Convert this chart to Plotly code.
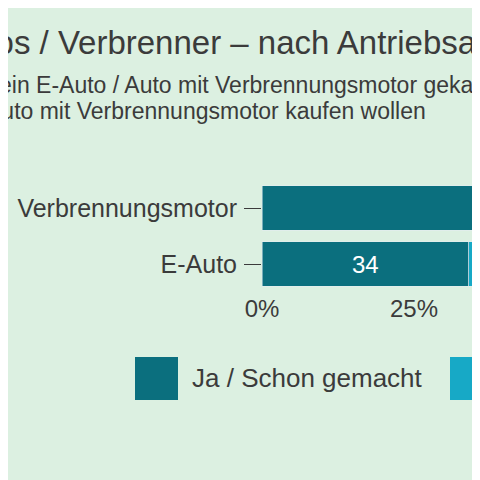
import plotly.graph_objects as go

categories = ["E-Auto", "Verbrennungsmotor"]
ja_values = [34, 52]
plan_values = [30, 25]
series_names = ["Ja / Schon gemacht", "Geplant"]
tick_vals = [0, 25, 50, 75, 100]
tick_text = ["0%", "25%", "50%", "75%", "100%"]

teal = "#0b6f7e"
cyan = "#17a9c6"
bg = "#dcf0e1"
ink = "#3b3b3b"

# page body has an 8px margin, so the figure is offset by 8px
OFF = 8
W, H = 472, 472
L, T = 262 - OFF, 180 - OFF
B = H - (292 - OFF)
pw, ph = W - L, H - T - B


def px(x):
    return (x - OFF - L) / pw


def py(y):
    return (H - B - (y - OFF)) / ph


fig = go.Figure()
fig.add_trace(go.Bar(y=categories, x=ja_values, orientation="h", name=series_names[0],
                     marker_color=teal, text=[ja_values[0], ""], textposition="inside",
                     insidetextanchor="middle", textfont=dict(color="white", size=24)))
fig.add_trace(go.Bar(y=categories, x=plan_values, orientation="h", name=series_names[1],
                     marker_color=cyan))

fig.update_layout(
    width=W, height=H, barmode="stack", bargap=0.21, showlegend=False,
    margin=dict(l=L, r=0, t=T, b=B),
    paper_bgcolor=bg, plot_bgcolor=bg,
    font=dict(family="Liberation Sans, Arial, sans-serif", color=ink, size=24),
    xaxis=dict(range=[0, 100 * (480 - 262) / 608], tickvals=tick_vals, ticktext=tick_text,
               showgrid=False, zeroline=False, ticks="", tickfont=dict(size=24)),
    yaxis=dict(ticks="outside", ticklen=17, tickcolor=ink, showline=False,
               tickfont=dict(size=25), ticklabelstandoff=2),
)

# title and subtitle (cropped at the edges like the reference)
fig.add_annotation(text="Autos / Verbrenner – nach Antriebsart", x=px(-56), y=py(42),
                   xref="paper", yref="paper", xanchor="left", yanchor="middle",
                   showarrow=False, font=dict(size=33, color=ink))
fig.add_annotation(text="ein E-Auto / Auto mit Verbrennungsmotor gekauft haben", x=px(-3), y=py(85),
                   xref="paper", yref="paper", xanchor="left", yanchor="middle",
                   showarrow=False, font=dict(size=23, color=ink))
fig.add_annotation(text="Auto mit Verbrennungsmotor kaufen wollen", x=px(-16), y=py(111),
                   xref="paper", yref="paper", xanchor="left", yanchor="middle",
                   showarrow=False, font=dict(size=23, color=ink))

# legend drawn by hand with large squares
for (x0, color, name) in [(135, teal, series_names[0]), (450, cyan, series_names[1])]:
    fig.add_shape(type="rect", xref="paper", yref="paper",
                  x0=px(x0), x1=px(x0 + 43), y0=py(357), y1=py(400),
                  fillcolor=color, line_width=0)
    fig.add_annotation(text=name, x=px(x0 + 55), y=py(378), xref="paper", yref="paper",
                       xanchor="left", yanchor="middle", showarrow=False,
                       font=dict(size=26, color=ink))

fig.write_html("out.html")
